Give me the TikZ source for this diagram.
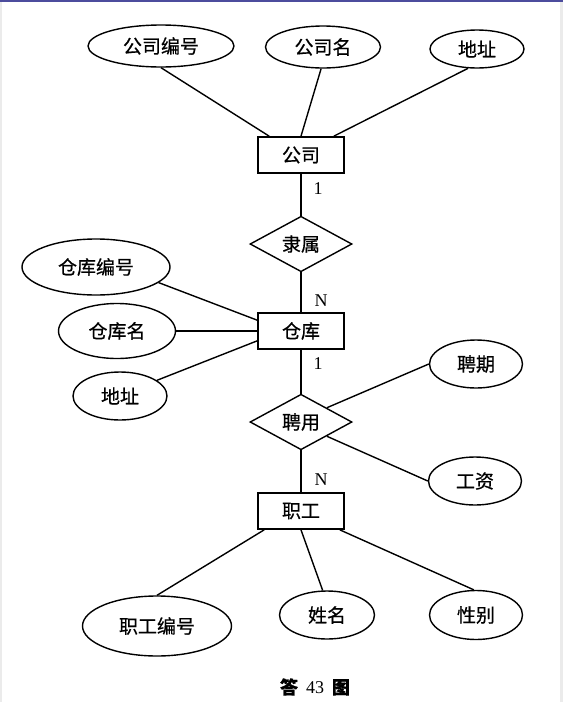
\documentclass[tikz,border=0pt]{standalone}
\usepackage{fontspec}
\setmainfont{Liberation Serif}
\newfontfamily\cjk[FakeBold=0.6]{Noto Sans CJK SC}
\usetikzlibrary{shapes.geometric}
\newcommand{\ERtext}{\cjk\fontsize{19}{22}\selectfont}
\newcommand{\ERnum}{\fontsize{18}{20}\selectfont}

\begin{document}
\begin{tikzpicture}[x=1pt, y=-1pt, line width=1.4pt,
  ent/.style={draw, rectangle, line width=1.7pt, minimum width=86pt, minimum height=36pt, inner sep=0pt, font=\ERtext},
  rel/.style={draw, diamond, minimum width=102pt, minimum height=46pt, inner sep=0pt, font=\ERtext},
  attr/.style={draw, ellipse, inner sep=0pt, font=\ERtext},
  card/.style={right, inner sep=0pt, font=\ERnum}]

  \useasboundingbox (0,0) rectangle (563,702);
  %% frame of the screenshot
  \fill[blue!45!black!70] (0,0) rectangle (563,1.5);
  \fill[black!8] (0,1.5) rectangle (2,702);
  \fill[black!8] (560,1.5) rectangle (563,702);

  %% company
  \node[attr, minimum width=146pt, minimum height=42pt] (gsbh) at (161,46) {公司编号};
  \node[attr, minimum width=115pt, minimum height=42pt] (gsm) at (323,47) {公司名};
  \node[attr, minimum width=94pt, minimum height=38pt] (gsdz) at (477,49) {地址};
  \node[ent] (gs) at (301,155) {公司};

  \node[rel] (ls) at (301,244) {隶属};

  %% warehouse
  \node[attr, minimum width=148pt, minimum height=56pt] (ckbh) at (96,267) {仓库编号};
  \node[attr, minimum width=117pt, minimum height=55pt] (ckm) at (117,331) {仓库名};
  \node[attr, minimum width=94pt, minimum height=48pt] (ckdz) at (120,396) {地址};
  \node[ent] (ck) at (301,331) {仓库};

  \node[rel] (py) at (301,422) {聘用};
  \node[attr, minimum width=93pt, minimum height=48pt] (pq) at (476,364) {聘期};
  \node[attr, minimum width=93pt, minimum height=48pt] (gz) at (475,481) {工资};

  %% staff
  \node[ent] (zg) at (301,511) {职工};
  \node[attr, minimum width=149pt, minimum height=60pt] (zgbh) at (157,626) {职工编号};
  \node[attr, minimum width=95pt, minimum height=48pt] (xm) at (327,615) {姓名};
  \node[attr, minimum width=93pt, minimum height=49pt] (xb) at (476,615) {性别};

  \node[font=\cjk\bfseries\fontsize{18}{20}\selectfont] (cap) at (315,687) {答\hspace{8pt}{\rmfamily\mdseries 43}\hspace{8pt}图};

  %% attributes
  \draw (gsbh.south) -- ([xshift=12pt]gs.north west);
  \draw (gsm.-95) -- (gs.north);
  \draw (gsdz.-115) -- ([xshift=-11pt]gs.north east);

  \draw (ckbh.-14) -- ([yshift=-8pt]ck.north west);
  \draw (ckm) -- (ck);
  \draw (ckdz.23) -- ([yshift=9pt]ck.south west);

  \draw (pq.west) -- (py.north east);
  \draw (py.south east) -- (gz.west);

  \draw ([xshift=7pt]zg.south west) -- (zgbh.north);
  \draw (zg.south) -- (xm.100);
  \draw ([xshift=-5pt]zg.south east) -- (xb.95);

  %% relationships
  \draw (gs) -- node[card, pos=0.36, xshift=12pt] {1} (ls);
  \draw (ls) -- node[card, pos=0.72, xshift=13pt] {N} (ck);
  \draw (ck) -- node[card, pos=0.32, xshift=12pt] {1} (py);
  \draw (py) -- node[card, pos=0.71, xshift=13pt] {N} (zg);
\end{tikzpicture}
\end{document}
